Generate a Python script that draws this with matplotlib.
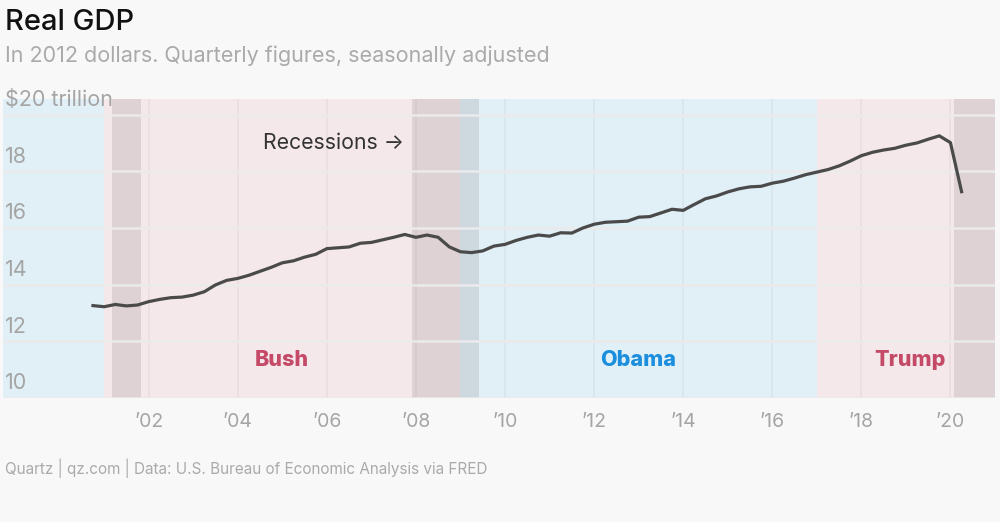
import matplotlib
matplotlib.use("Agg")
import matplotlib.pyplot as plt
import pandas as pd

plt.rcParams['font.family'] = ['Inter', 'DejaVu Sans']

# real GDP, trillions of 2012 dollars, quarterly 2000Q4 .. 2020Q2
quarters = pd.period_range('2000Q4', '2020Q2', freq='Q')
gdp = [13.26, 13.22, 13.30, 13.25, 13.28,
       13.40, 13.48, 13.54, 13.56,
       13.63, 13.75, 13.99, 14.15,
       14.22, 14.33, 14.47, 14.61,
       14.77, 14.84, 14.97, 15.07,
       15.27, 15.30, 15.33, 15.46,
       15.49, 15.58, 15.67, 15.77,
       15.67, 15.75, 15.67, 15.33,
       15.16, 15.13, 15.19, 15.36,
       15.42, 15.56, 15.67, 15.75,
       15.71, 15.83, 15.82, 16.00,
       16.13, 16.20, 16.22, 16.24,
       16.38, 16.40, 16.53, 16.66,
       16.62, 16.83, 17.03, 17.13,
       17.27, 17.38, 17.45, 17.47,
       17.58, 17.65, 17.76, 17.88,
       17.97, 18.06, 18.19, 18.36,
       18.55, 18.67, 18.75, 18.81,
       18.92, 19.00, 19.13, 19.25,
       19.01, 17.28]

# presidential terms (decimal years) and band colours
term_names = ['', 'Bush', 'Obama', 'Trump']
term_starts = [1998.7, 2001.0, 2009.0, 2017.0]
term_ends = [2001.0, 2009.0, 2017.0, 2021.05]
term_colors = ['#e1eff6', '#f4e8ea', '#e1eff6', '#f4e8ea']
label_colors = ['#1b8ede', '#c44a68', '#1b8ede', '#c44a68']
label_x = [2000.0, 2004.99, 2012.99, 2019.1]

# recessions (NBER)
rec_starts = [2001.167, 2007.917, 2020.083]
rec_ends = [2001.833, 2009.417, 2021.05]

xticks = [2002, 2004, 2006, 2008, 2010, 2012, 2014, 2016, 2018, 2020]
xlabels = ['\u201902', '\u201904', '\u201906', '\u201908', '\u201910',
           '\u201912', '\u201914', '\u201916', '\u201918', '\u201920']
yticks = [10, 12, 14, 16, 18, 20]
ylabels = ['10', '12', '14', '16', '18', '$20 trillion']

bg = '#f8f8f8'
grey = '#a5a5a5'

fig = plt.figure(figsize=(10, 5.22), dpi=100, facecolor=bg)
ax = fig.add_axes([0.003, 1 - 398 / 522, 0.992, 299 / 522])
ax.set_facecolor(bg)

x = [p.year + (p.quarter - 1) / 4 for p in quarters]

for s, e, c in zip(term_starts, term_ends, term_colors):
    ax.axvspan(s, e, color=c, lw=0, zorder=0.1)
for s, e in zip(rec_starts, rec_ends):
    ax.axvspan(s, e, color='#201818', alpha=0.1, lw=0, zorder=0.2)

ax.set_xlim(1998.73, 2021.0)
ax.set_ylim(10, 20.55)

ax.set_xticks(xticks)
ax.set_xticklabels(xlabels, color=grey, fontsize=14)
ax.set_yticks(yticks)
ax.set_yticklabels([])
ax.tick_params(axis='both', length=0)
ax.tick_params(axis='x', pad=11)
ax.set_axisbelow(False)
ax.xaxis.grid(True, color='#000000', alpha=0.045, lw=1.2)
ax.yaxis.grid(True, color='#ebebeb', lw=1.8)
for sp in ax.spines.values():
    sp.set_visible(False)

for v, lab in zip(yticks, ylabels):
    ax.text(1998.77, v + 0.3, lab, color=grey, fontsize=15.5,
            ha='left', va='baseline', zorder=4)

ax.plot(x, gdp, color='#4a4a4a', lw=2.3, zorder=5, solid_joinstyle='round')

for name, lx, lc in zip(term_names, label_x, label_colors):
    if name:
        ax.text(lx, 11.33, name, color=lc, fontsize=15.5, fontweight='heavy',
                ha='center', va='center', zorder=4)

ax.text(2004.57, 19.0, 'Recessions \u2192', color='#333333', fontsize=15.3,
        ha='left', va='center', zorder=4)

fig.text(0.005, 1 - 30 / 522, 'Real GDP', fontsize=21, fontweight='medium',
         color='#111111', ha='left', va='baseline')
fig.text(0.005, 1 - 62 / 522,
         'In 2012 dollars. Quarterly figures, seasonally adjusted',
         fontsize=15.5, color='#aaaaaa', ha='left', va='baseline')
fig.text(0.005, 1 - 474 / 522,
         'Quartz | qz.com | Data: U.S. Bureau of Economic Analysis via FRED',
         fontsize=11, color='#aaaaaa', ha='left', va='baseline')

fig.savefig('out.png', dpi=100, facecolor=bg)
